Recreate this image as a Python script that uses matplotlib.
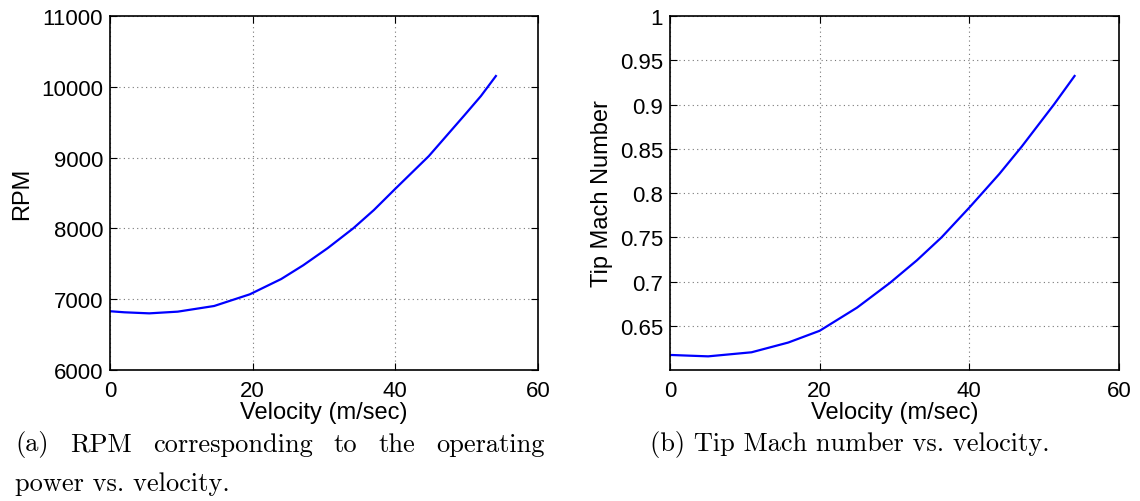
import matplotlib
matplotlib.use("Agg")
import matplotlib.pyplot as plt

# RPM vs velocity
vel_rpm = [0, 2, 5.5, 9.5, 14.6, 19.6, 24, 27.1, 30.5, 34.1, 37, 40, 44.7, 49.7, 52, 54.1]
rpm = [6830, 6815, 6800, 6824, 6904, 7069, 7285, 7480, 7720, 8001, 8260, 8560, 9022,
       9600, 9870, 10153]

# Tip Mach number vs velocity
vel_mach = [0, 2.5, 5.1, 10.9, 15.8, 20, 25, 29.4, 33, 36.3, 40.1, 44, 47, 51.3, 54.06]
mach = [0.617, 0.6162, 0.6154, 0.620, 0.631, 0.6443, 0.6705, 0.6985, 0.7240, 0.7500,
        0.7845, 0.8215, 0.8525, 0.9000, 0.9323]

plt.rcParams['font.family'] = ['Liberation Sans', 'DejaVu Sans']

fig = plt.figure(figsize=(11.4, 5.02), dpi=100)
ax1 = fig.add_axes([0.0965, 0.261, 0.3754, 0.705])
ax2 = fig.add_axes([0.5877, 0.261, 0.3939, 0.705])

def style(ax):
    ax.grid(True, linestyle=(0, (1, 3)), color='#777777', linewidth=0.8)
    ax.tick_params(direction='in', labelsize=16, length=5, top=True, right=True)
    ax.tick_params(axis='x', pad=7)
    ax.tick_params(axis='y', pad=5)
    for s in ax.spines.values():
        s.set_linewidth(1.2)
    ax.set_xlim(0, 60)
    ax.set_xticks([0, 20, 40, 60])
    ax.set_xlabel('Velocity (m/sec)', fontsize=17, labelpad=0)

ax1.plot(vel_rpm, rpm, color='#0000ff', linewidth=1.6)
style(ax1)
ax1.set_ylim(6000, 11000)
ax1.set_yticks(range(6000, 11001, 1000))
ax1.set_ylabel('RPM', fontsize=17, labelpad=6)

ax2.plot(vel_mach, mach, color='#0000ff', linewidth=1.6)
style(ax2)
ax2.set_ylim(0.6, 1.0)
ax2.set_yticks([0.65, 0.7, 0.75, 0.8, 0.85, 0.9, 0.95, 1.0])
ax2.set_yticklabels(['0.65', '0.7', '0.75', '0.8', '0.85', '0.9', '0.95', '1'])
ax2.set_ylabel('Tip Mach Number', fontsize=17, labelpad=5)

# captions, first line of (a) justified between x=15 and x=545 px
cap = dict(fontsize=19, family=['cmr10', 'DejaVu Serif'], va='center')
words = ['(a)', 'RPM', 'corresponding', 'to', 'the', 'operating']
renderer = fig.canvas.get_renderer()
arts = [fig.text(0, 1 - 445 / 502, w, ha='left', **cap) for w in words]
widths = [a.get_window_extent(renderer).width for a in arts]
left, right = 15, 545
gap = (right - left - sum(widths)) / (len(words) - 1)
x = left
for a, w in zip(arts, widths):
    a.set_x(x / 1140)
    x += w + gap
fig.text(15 / 1140, 1 - 484 / 502, 'power vs. velocity.', ha='left', **cap)
fig.text(850 / 1140, 1 - 445 / 502, '(b) Tip Mach number vs. velocity.', ha='center', **cap)

fig.savefig('out.png', dpi=100)
